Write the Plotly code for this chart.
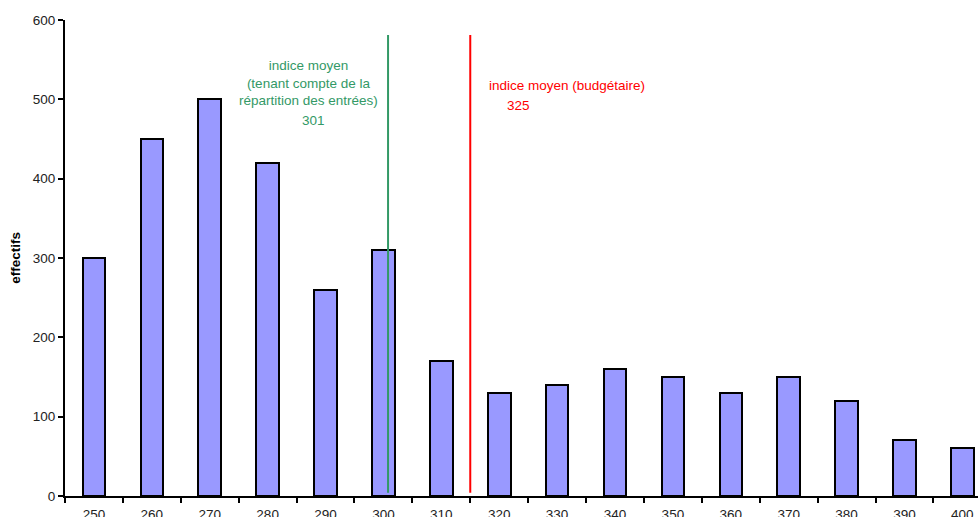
import plotly.graph_objects as go

# ---- data ----
categories = [250, 260, 270, 280, 290, 300, 310, 320, 330, 340, 350, 360, 370, 380, 390, 400]
effectifs = [300, 450, 500, 420, 260, 310, 170, 130, 140, 160, 150, 130, 150, 120, 70, 60]
tick_labels = [str(c) for c in categories]
green_line_x = 300.8   # visual position of "indice moyen (tenant compte...)" line
red_line_x = 315.0     # visual position of "indice moyen (budgétaire)" line
line_y = [4, 581]
green_label = "indice moyen<br>(tenant compte de la<br>répartition des entrées)"
green_value = "301"
red_label = "indice moyen (budgétaire)"
red_value = "325"

GREEN = "#339966"
RED = "#FF0000"
FONT = "Liberation Sans, Arial, sans-serif"

fig = go.Figure()
fig.add_trace(go.Bar(
    x=categories, y=effectifs, width=3.9,
    marker=dict(color="#9999FF", line=dict(color="black", width=2)),
    showlegend=False, hoverinfo="x+y",
))

fig.add_shape(type="line", xref="x", yref="y", x0=green_line_x, x1=green_line_x,
              y0=line_y[0], y1=line_y[1], line=dict(color=GREEN, width=2))
fig.add_shape(type="line", xref="x", yref="y", x0=red_line_x, x1=red_line_x,
              y0=line_y[0], y1=line_y[1], line=dict(color=RED, width=2))

fig.add_annotation(x=287, y=521, xref="x", yref="y", text=green_label, showarrow=False,
                   font=dict(color=GREEN, size=13.5, family=FONT), align="center",
                   xanchor="center", yanchor="middle")
fig.add_annotation(x=288, y=473, xref="x", yref="y", text=green_value, showarrow=False,
                   font=dict(color=GREEN, size=13.5, family=FONT),
                   xanchor="center", yanchor="middle")
fig.add_annotation(x=317.9, y=517, xref="x", yref="y", text=red_label, showarrow=False,
                   font=dict(color=RED, size=13.5, family=FONT),
                   xanchor="left", yanchor="middle")
fig.add_annotation(x=321, y=492, xref="x", yref="y", text=red_value, showarrow=False,
                   font=dict(color=RED, size=13.5, family=FONT),
                   xanchor="left", yanchor="middle")

fig.update_layout(
    width=978, height=517,
    margin=dict(l=65, r=0, t=20, b=21.3, pad=0, autoexpand=False),
    plot_bgcolor="white", paper_bgcolor="white",
    font=dict(family=FONT, size=13.5, color="#222222"),
    bargap=0,
    xaxis=dict(
        range=[245, 402.7], tickmode="array", tickvals=categories, ticktext=tick_labels,
        ticks="", showgrid=False, zeroline=False,
        showline=True, linecolor="black", linewidth=2,
        minor=dict(tick0=245, dtick=10, ticks="outside", ticklen=5, tickwidth=1.5,
                   tickcolor="black", showgrid=False),
        tickfont=dict(size=13.5, color="#222222"),
        ticklabelstandoff=5,
        automargin=False,
        fixedrange=True,
    ),
    yaxis=dict(
        range=[0, 600], dtick=100, ticks="outside", ticklen=5, tickwidth=1.5,
        tickcolor="black", showgrid=False, zeroline=False,
        showline=True, linecolor="black", linewidth=2,
        title=dict(text="<b>effectifs</b>", font=dict(size=13.5, color="black"), standoff=9.5),
        tickfont=dict(size=13.5, color="#222222"),
        automargin=False,
        fixedrange=True,
    ),
)

fig.write_html("out.html")
